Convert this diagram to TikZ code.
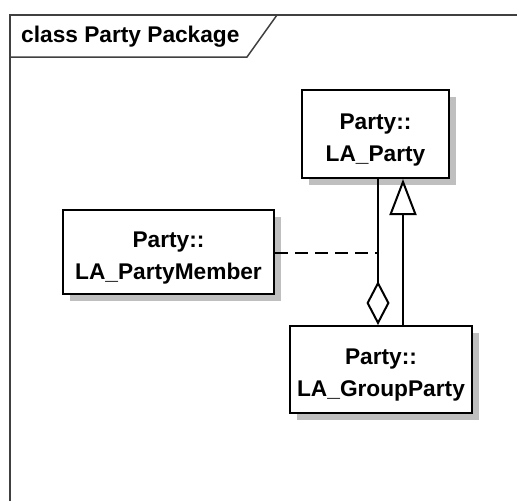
\documentclass[tikz,border=0pt]{standalone}
\usepackage{fontspec}
\setmainfont{Liberation Sans}
\usetikzlibrary{arrows.meta,shadows}
% two-line class name, set a little below the middle of its box
\newcommand\classname[2]{\raisebox{0pt}[\dimexpr\height+10pt\relax][\depth]{\begin{tabular}{@{}c@{}}#1\\#2\end{tabular}}}
\begin{document}
\begin{tikzpicture}[x=1pt,y=-1pt,
  classbox/.style={draw=black, line width=2pt, fill=white,
    font=\fontsize{22.7}{32}\selectfont\bfseries, inner sep=0pt,
    general shadow={fill=black!25, shadow xshift=7pt, shadow yshift=-7pt}},
  frameline/.style={draw=black!75, line width=1.5pt},
  link/.style={draw=black, line width=2pt},
  aggr/.style={link, {Diamond[open, length=44pt, width=23pt, line width=2pt]}-},
  gen/.style={link, -{Triangle[open, length=36pt, width=27pt, line width=2pt]}},
  dep/.style={link, dash pattern=on 13pt off 7pt}]
\useasboundingbox (0,0) rectangle (517,501);
\fill[white] (0,0) rectangle (517,501);
% package frame and name tab
\draw[frameline] (10,501) -- (10,15) -- (520,15);
\draw[frameline] (10,57) -- (247,57) -- (277,15);
\node[anchor=west, font=\fontsize{22.7}{26}\selectfont\bfseries, inner sep=0pt] (title) at (21,37) {class Party Package};
% classes
\node[classbox, minimum width=147pt, minimum height=88pt] (party) at (375.5,134) {\classname{Party::}{LA\_Party}};
\node[classbox, minimum width=211pt, minimum height=84pt] (member) at (168.5,252) {\classname{Party::}{LA\_PartyMember}};
\node[classbox, minimum width=182pt, minimum height=87pt] (group) at (381,369.5) {\classname{Party::}{LA\_GroupParty}};
% relations
\coordinate (join) at (378,253);
\draw[aggr] (group.north -| join) -- (party.south -| join);
\draw[gen] (group.north -| 403,0) -- (party.south -| 403,0);
\draw[dep] (member.east |- join) -- (join);
\end{tikzpicture}
\end{document}
